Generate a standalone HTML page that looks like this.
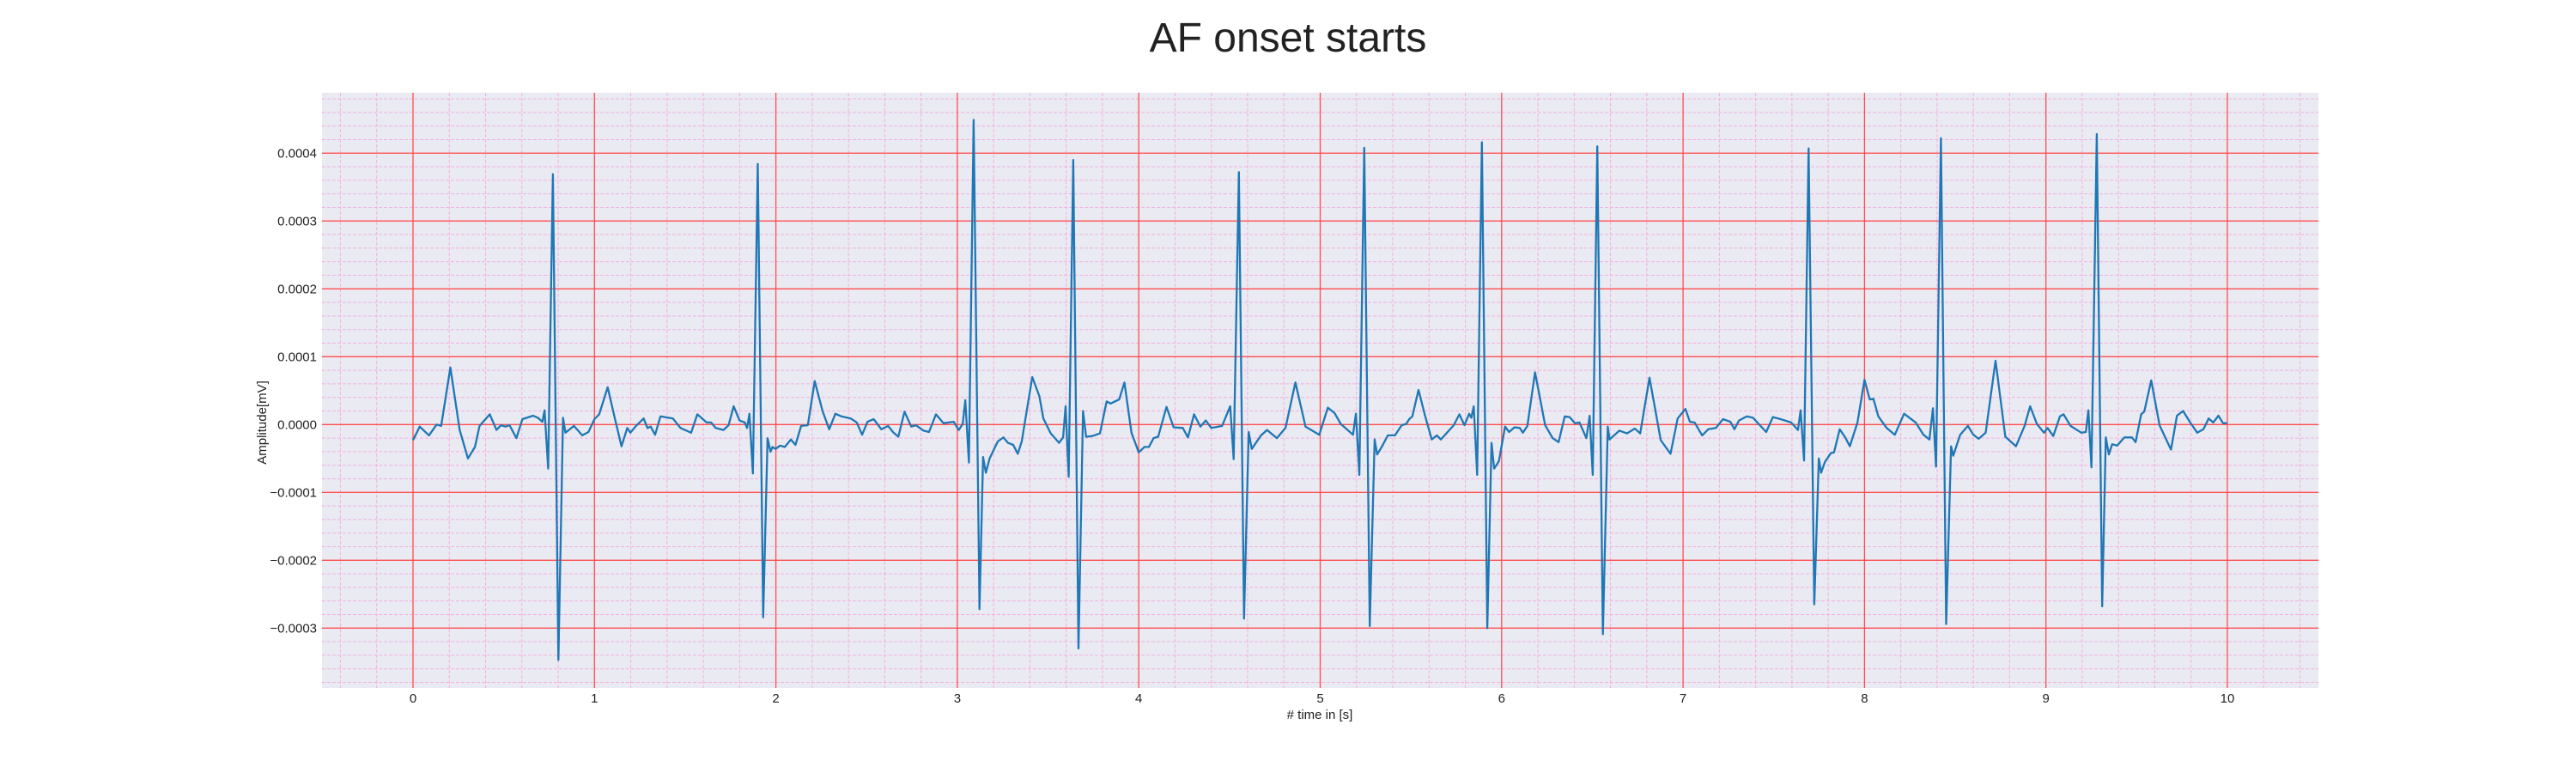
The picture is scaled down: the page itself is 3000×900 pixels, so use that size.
<!DOCTYPE html>
<html><head><meta charset="utf-8"><style>
html,body{margin:0;padding:0;background:#fff;}
svg{display:block;font-family:"Liberation Sans",sans-serif;}
</style></head><body>
<svg id="chart" width="3000" height="900" viewBox="0 0 3000 900" xmlns="http://www.w3.org/2000/svg">
<rect x="0" y="0" width="3000" height="900" fill="#fff"/>
<text x="1500" y="60" font-size="48" text-anchor="middle" fill="#222">AF onset starts</text>
<rect x="375" y="108" width="2325" height="693" fill="#EAEAF2"/>
<g id="grid"></g>
<g id="ticks"></g>
<path id="ecg" fill="none" stroke="#1f77b4" stroke-width="2.3" stroke-linejoin="round"/>
<text x="1537" y="837" font-size="15" text-anchor="middle" fill="#222"># time in [s]</text>
<text x="0" y="0" font-size="15" text-anchor="middle" fill="#222" transform="translate(310,492) rotate(-90)">Amplitude[mV]</text>
</svg>
<script>
const xTicks=[0,1,2,3,4,5,6,7,8,9,10];
const yTicks=[-0.0003,-0.0002,-0.0001,0,0.0001,0.0002,0.0003,0.0004];
const yTickLabels=["\u22120.0003","\u22120.0002","\u22120.0001","0.0000","0.0001","0.0002","0.0003","0.0004"];
const times=[0,.037,.088,.13,.155,.206,.257,.303,.341,.367,.423,.46,.485,.51,.532,.57,.603,.662,.688,.713,.725,.745,.771,.801,.827,.84,.887,.933,.967,1.0,1.026,1.073,1.11,1.149,1.181,1.198,1.229,1.271,1.292,1.31,1.334,1.364,1.432,1.474,1.508,1.533,1.567,1.618,1.643,1.668,1.711,1.739,1.767,1.8,1.829,1.841,1.854,1.873,1.9,1.93,1.954,1.97,1.981,1.998,2.023,2.049,2.083,2.108,2.139,2.176,2.214,2.257,2.294,2.328,2.361,2.412,2.446,2.475,2.505,2.539,2.581,
2.619,2.645,2.675,2.709,2.746,2.772,2.814,2.844,2.882,2.924,2.98,3.008,3.03,3.044,3.064,3.09,3.122,3.142,3.157,3.178,3.223,3.254,3.279,3.308,3.333,3.355,3.413,3.452,3.474,3.515,3.561,3.583,3.597,3.614,3.639,3.668,3.693,3.71,3.744,3.786,3.823,3.845,3.892,3.921,3.96,4.0,4.031,4.056,4.082,4.107,4.153,4.192,4.243,4.271,4.305,4.34,4.369,4.4,4.459,4.504,4.523,4.552,4.58,4.606,4.623,4.674,4.707,4.761,4.809,4.863,4.919,4.995,5.042,5.079,5.113,5.181,5.197,5.216,5.243,
5.273,5.3,5.314,5.339,5.373,5.412,5.449,5.474,5.491,5.508,5.542,5.576,5.615,5.643,5.665,5.736,5.767,5.795,5.821,5.833,5.846,5.865,5.891,5.921,5.944,5.959,5.985,6.019,6.041,6.071,6.1,6.117,6.142,6.184,6.24,6.281,6.314,6.348,6.375,6.404,6.429,6.467,6.485,6.502,6.527,6.558,6.585,6.595,6.649,6.691,6.734,6.764,6.815,6.877,6.931,6.97,7.013,7.038,7.064,7.105,7.139,7.181,7.22,7.261,7.283,7.308,7.351,7.385,7.458,7.495,7.537,7.596,7.633,7.648,7.667,7.692,7.723,7.748,7.761,7.782,7.815,7.832,7.863,7.894,
7.919,7.961,8.0,8.029,8.049,8.076,8.122,8.167,8.218,8.282,8.325,8.358,8.377,8.394,8.421,8.45,8.477,8.489,8.527,8.57,8.6,8.629,8.668,8.722,8.776,8.835,8.882,8.913,8.95,8.989,9.009,9.04,9.077,9.097,9.136,9.195,9.22,9.234,9.251,9.28,9.31,9.33,9.347,9.365,9.393,9.432,9.474,9.494,9.525,9.542,9.58,9.626,9.689,9.722,9.756,9.795,9.834,9.868,9.897,9.922,9.951,9.976,9.998];
const amps=[-.23,-.03,-.16,0,-.02,.84,-.08,-.5,-.33,-.02,.15,-.08,-.01,-.03,-.01,-.2,.08,.13,.1,.04,.21,-.65,3.69,-3.47,.1,-.12,-.02,-.16,-.11,.08,.15,.55,.12,-.32,-.05,-.12,-.02,.09,-.05,-.03,-.15,.12,.09,-.05,-.09,-.12,.15,.03,.03,-.05,-.08,-.01,.27,.06,.03,-.05,.16,-.72,3.84,-2.84,-.2,-.4,-.33,-.36,-.31,-.33,-.22,-.3,-.02,-.01,.64,.2,-.07,.16,.12,.09,.03,-.15,.04,.08,-.07,
-.02,-.11,-.18,.19,-.03,-.01,-.09,-.11,.15,.02,.04,-.08,.01,.36,-.56,4.49,-2.72,-.48,-.71,-.5,-.25,-.19,-.27,-.3,-.43,-.25,.7,.42,.09,-.13,-.27,-.19,.27,-.77,3.9,-3.3,.2,-.18,-.17,-.13,.34,.31,.37,.62,-.12,-.41,-.33,-.33,-.2,-.18,.26,-.04,-.05,-.19,.15,-.03,.06,-.05,-.02,.27,-.51,3.72,-2.86,-.11,-.36,-.16,-.08,-.2,-.05,.62,-.03,-.15,.25,.17,.01,-.15,.16,-.74,4.08,
-2.97,-.22,-.44,-.33,-.16,-.16,-.01,.01,.08,.12,.51,.15,-.22,-.16,-.22,-.01,.15,-.01,.16,.1,.27,-.74,4.16,-3.0,-.27,-.65,-.54,-.03,-.11,-.04,-.05,-.12,-.02,.77,-.01,-.2,-.26,.12,.11,.02,.03,-.2,.13,-.74,4.1,-3.09,-.03,-.22,-.09,-.13,-.06,-.13,.69,-.23,-.43,.09,.23,.04,.03,-.16,-.07,-.05,.08,.04,-.07,.06,.12,.1,-.11,.11,.08,.03,-.08,.21,-.53,4.07,-2.65,-.5,-.71,-.55,-.42,-.41,-.07,-.19,
-.32,.03,.66,.37,.38,.12,-.05,-.15,.16,.03,-.15,-.22,.24,-.62,4.22,-2.94,-.32,-.46,-.15,-.02,-.15,-.21,-.12,.94,-.18,-.32,-.02,.27,.01,-.12,-.05,-.17,.12,.15,-.02,-.12,-.11,.21,-.63,4.28,-2.68,-.19,-.44,-.29,-.31,-.19,-.19,-.26,.15,.19,.65,-.01,-.37,.13,.2,.03,-.12,-.07,.09,.03,.13,.02,.02];
const AMP_UNIT=1e-4;
const X0=481, XS=211.3, Y0=494.3, YS=79/1e-4;
const L=375, R=2700, T=108, B=801;
function sx(t){return X0+t*XS;}
function sy(v){return Y0-v*YS;}
const NS="http://www.w3.org/2000/svg";
const grid=document.getElementById('grid');
const ticks=document.getElementById('ticks');
function line(x1,y1,x2,y2,stroke,w,dash){
  const l=document.createElementNS(NS,'line');
  l.setAttribute('x1',x1);l.setAttribute('y1',y1);l.setAttribute('x2',x2);l.setAttribute('y2',y2);
  l.setAttribute('stroke',stroke);l.setAttribute('stroke-width',w);
  if(dash)l.setAttribute('stroke-dasharray',dash);
  grid.appendChild(l);return l;
}
for(let k=-2;k<=52;k++){const t=k*0.2;if(Math.abs(t-Math.round(t))<1e-6)continue;const x=sx(t);if(x<L||x>R)continue;
  const l=line(x,T,x,B,'#f4b0e0',1,'4,2');
  
  }
for(let k=-20;k<=25;k++){const v=k*0.2e-4;if(k%5===0)continue;const y=sy(v);if(y<T||y>B)continue;
  const l=line(L,y,R,y,'#f4b0e0',1,'4,2');
  
  }
xTicks.forEach(t=>{const x=sx(t);
  const l=line(x,T,x,B,'#ff4d4d',1.3);
  
  
  const tx=document.createElementNS(NS,'text');
  tx.setAttribute('x',x);tx.setAttribute('y',818);tx.setAttribute('font-size','15');tx.setAttribute('text-anchor','middle');tx.setAttribute('fill','#222');
  tx.textContent=String(t);
  
  
  ticks.appendChild(tx);});
yTicks.forEach((v,i)=>{const y=sy(v);
  const l=line(L,y,R,y,'#ff4d4d',1.3);
  
  
  const tx=document.createElementNS(NS,'text');
  tx.setAttribute('x',369);tx.setAttribute('y',y+5);tx.setAttribute('font-size','15');tx.setAttribute('text-anchor','end');tx.setAttribute('fill','#222');
  tx.textContent=yTickLabels[i];
  
  
  ticks.appendChild(tx);});
let d='';
for(let i=0;i<times.length;i++){d+=(i?'L':'M')+sx(times[i]).toFixed(1)+','+sy(amps[i]*AMP_UNIT).toFixed(1);}
document.getElementById('ecg').setAttribute('d',d);
</script>
</body></html>
